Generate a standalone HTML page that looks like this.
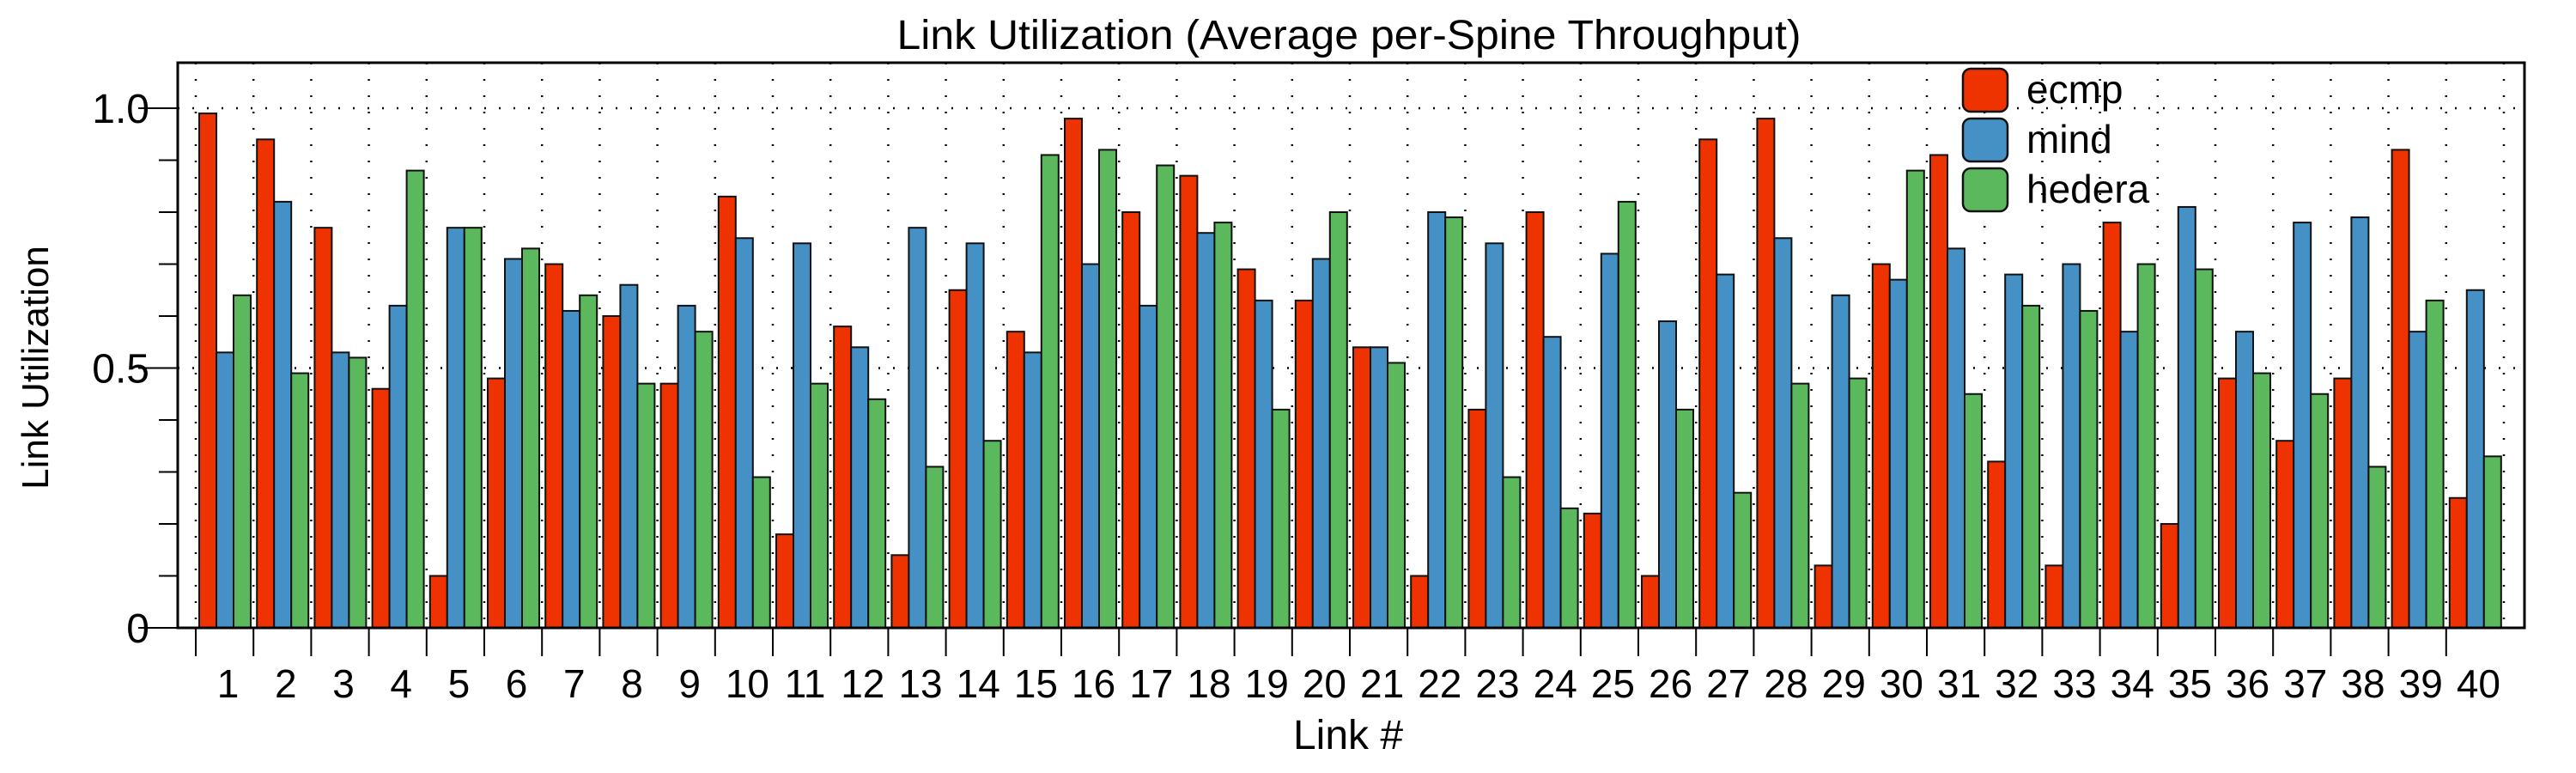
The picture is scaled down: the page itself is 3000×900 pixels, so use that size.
<!DOCTYPE html>
<html><head><meta charset="utf-8"><style>
html,body{margin:0;padding:0;background:#fff;}
svg{display:block;font-family:"Liberation Sans",Arial,sans-serif;}
</style></head><body>
<svg id="chart" width="3000" height="900" viewBox="0 0 3000 900">
<g id="grid"></g>
<g id="bars"></g>
<g id="axes"></g>
<text x="1571" y="57" font-size="48" text-anchor="middle" textLength="1053" lengthAdjust="spacingAndGlyphs">Link Utilization (Average per-Spine Throughput)</text>
<text x="1570" y="872" font-size="48" text-anchor="middle">Link #</text>
<text transform="translate(56,428) rotate(-90)" font-size="44" text-anchor="middle">Link Utilization</text>
<g id="legend"></g>
</svg>
<script>
const categories = [1,2,3,4,5,6,7,8,9,10,11,12,13,14,15,16,17,18,19,20,21,22,23,24,25,26,27,28,29,30,31,32,33,34,35,36,37,38,39,40];
const ecmp =   [0.99,0.94,0.77,0.46,0.10,0.48,0.70,0.60,0.47,0.83,0.18,0.58,0.14,0.65,0.57,0.98,0.80,0.87,0.69,0.63,0.54,0.10,0.42,0.80,0.22,0.10,0.94,0.98,0.12,0.70,0.91,0.32,0.12,0.78,0.20,0.48,0.36,0.48,0.92,0.25];
const mind =   [0.53,0.82,0.53,0.62,0.77,0.71,0.61,0.66,0.62,0.75,0.74,0.54,0.77,0.74,0.53,0.70,0.62,0.76,0.63,0.71,0.54,0.80,0.74,0.56,0.72,0.59,0.68,0.75,0.64,0.67,0.73,0.68,0.70,0.57,0.81,0.57,0.78,0.79,0.57,0.65];
const hedera = [0.64,0.49,0.52,0.88,0.77,0.73,0.64,0.47,0.57,0.29,0.47,0.44,0.31,0.36,0.91,0.92,0.89,0.78,0.42,0.80,0.51,0.79,0.29,0.23,0.82,0.42,0.26,0.47,0.48,0.88,0.45,0.62,0.61,0.70,0.69,0.49,0.45,0.31,0.63,0.33];
const seriesNames = ["ecmp","mind","hedera"];
const yTicks = [0,0.5,1.0];
const yTickLabels = ["0","0.5","1.0"];

const NS="http://www.w3.org/2000/svg";
const colors=["#EE3300","#4591C6","#5CB85C"];
const L=207,R=2940,T=73,B=731,X0=228,GW=67.2,BW=20;
const y=v=>B-(B-126)*v;
const gx=i=>X0+i*GW;
function mk(tag,attrs,parent){const e=document.createElementNS(NS,tag);for(const k in attrs)e.setAttribute(k,attrs[k]);parent.appendChild(e);return e;}
const grid=document.getElementById('grid'),bars=document.getElementById('bars'),axes=document.getElementById('axes'),legend=document.getElementById('legend');
for(let i=0;i<=categories.length;i++){
  const l=mk('line',{x1:gx(i),x2:gx(i),y1:T,y2:B,stroke:'#000','stroke-width':2.5,'stroke-dasharray':'2 17'},grid);
  
  
}
yTicks.forEach(v=>{if(v>0){
  const l=mk('line',{x1:L,x2:R,y1:y(v),y2:y(v),stroke:'#000','stroke-width':2.5,'stroke-dasharray':'2 15'},grid);
  
  
}});
const all=[ecmp,mind,hedera];
categories.forEach((c,i)=>{
  all.forEach((s,k)=>{
    const x=gx(i)+4+k*BW;
    const r=mk('rect',{x:x,y:y(s[i]),width:BW,height:B-y(s[i]),fill:colors[k],stroke:'#111','stroke-width':2},bars);
    
    
  });
});
const f=mk('rect',{x:L,y:T,width:R-L,height:B-T,fill:'none',stroke:'#000','stroke-width':3},axes);


for(let m=0;m<=10;m++){
  const v=m/10, major=(m%5===0);
  const t=mk('line',{x1:major?L-46:L-22,x2:L,y1:y(v),y2:y(v),stroke:'#000','stroke-width':2},axes);
  
  
}
yTicks.forEach((v,i)=>{
  const t=mk('text',{x:174,y:y(v)+17,'font-size':48,'text-anchor':'end'},axes);
  t.textContent=yTickLabels[i];
  
  
});
for(let i=0;i<categories.length;i++){
  const t=mk('line',{x1:gx(i),x2:gx(i),y1:B,y2:B+33,stroke:'#000','stroke-width':2},axes);
  
  
  const lb=mk('text',{x:gx(i)+GW/2+4,y:812,'font-size':46,'text-anchor':'middle'},axes);
  lb.textContent=categories[i];
  
  
}
seriesNames.forEach((n,k)=>{
  const yy=80+k*58;
  const r=mk('rect',{x:2286,y:yy,width:52,height:50,rx:9,fill:colors[k],stroke:'#111','stroke-width':2.5},legend);
  
  
  const t=mk('text',{x:2360,y:yy+40,'font-size':46},legend);
  t.textContent=n;
  
  
});
</script>
</body></html>
